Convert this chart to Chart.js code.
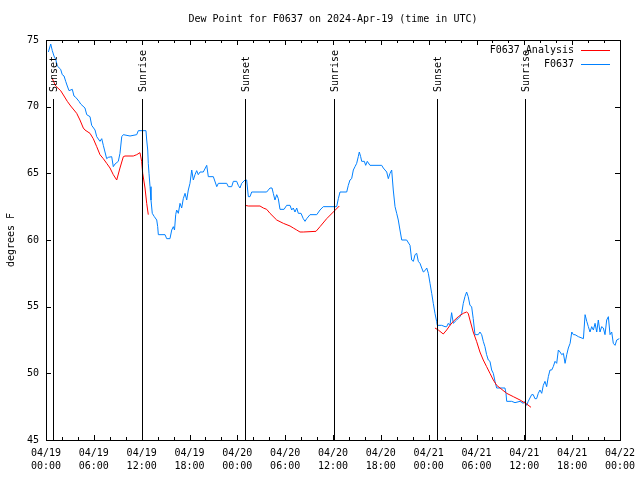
<!DOCTYPE html>
<html>
<head>
<meta charset="utf-8">
<script src="https://cdn.jsdelivr.net/npm/chart.js@4/dist/chart.umd.min.js"></script>
<style>
html,body{margin:0;padding:0;background:#fff;}
#wrap{width:640px;height:480px;}
</style>
</head>
<body>
<div id="wrap"><canvas id="c" width="640" height="480"></canvas></div>
<script>
// ---- DATA (hours since 2024-04-19 00:00 UTC) ----
const chartTitle = 'Dew Point for F0637 on 2024-Apr-19 (time in UTC)';
const yTitle = 'degrees F';
const seriesNames = ['F0637 Analysis', 'F0637'];
const tickDates = {0:'04/19',6:'04/19',12:'04/19',18:'04/19',24:'04/20',30:'04/20',36:'04/20',42:'04/20',48:'04/21',54:'04/21',60:'04/21',66:'04/21',72:'04/22'};
const tickTimes = {0:'00:00',6:'06:00',12:'12:00',18:'18:00',24:'00:00',30:'06:00',36:'12:00',42:'18:00',48:'00:00',54:'06:00',60:'12:00',66:'18:00',72:'00:00'};

const sunsetHours = [0.9, 25.0, 49.08];
const sunriseHours = [12.08, 36.15, 60.12];

const obsHours = [0.3,0.59,0.79,1.0,1.22,1.42,1.84,2.04,2.26,2.47,2.67,2.89,3.30,3.51,3.73,4.14,4.35,4.89,5.11,5.52,5.73,6.15,6.36,6.77,6.99,7.19,7.40,7.61,7.81,8.24,8.44,8.66,9.07,9.28,9.50,9.70,10.54,11.38,11.58,12.54,12.63,12.76,12.83,12.92,13.05,13.17,13.33,13.59,13.89,14.01,14.09,14.93,15.14,15.55,15.77,15.97,16.12,16.27,16.39,16.60,16.81,17.02,17.22,17.44,17.65,17.85,18.06,18.28,18.48,18.69,18.90,19.10,19.32,19.73,20.16,20.36,20.99,21.42,21.62,22.67,22.87,23.29,23.50,23.92,24.12,24.33,24.55,24.96,25.17,25.38,25.59,25.80,26.84,27.68,28.10,28.35,28.51,28.72,28.94,29.14,29.35,29.86,30.19,30.61,30.82,31.02,31.23,31.45,31.65,31.99,32.27,32.49,32.70,33.12,33.96,34.37,34.78,36.46,36.67,36.88,37.72,37.92,38.13,38.34,38.55,38.76,38.97,39.17,39.30,39.47,39.60,39.93,40.10,40.30,40.64,42.11,42.31,42.74,42.94,43.15,43.36,43.56,43.78,43.99,44.19,44.40,44.62,45.24,45.66,45.87,46.08,46.29,46.50,46.70,46.91,47.13,47.33,47.54,47.76,47.96,48.17,48.38,48.58,48.79,49.0,49.08,49.63,50.05,50.26,50.46,50.67,50.88,51.09,51.51,51.93,52.14,52.34,52.55,52.76,52.96,53.18,53.39,53.59,53.81,54.22,54.43,54.65,54.85,55.06,55.27,55.48,55.69,55.90,56.11,56.32,56.53,57.57,57.70,57.79,58.41,58.83,59.46,59.87,60.08,60.29,60.49,60.92,61.12,61.33,61.54,61.75,61.96,62.18,62.38,62.59,62.80,63.01,63.22,63.43,63.63,63.85,64.06,64.27,64.48,64.69,64.90,65.11,65.32,65.52,65.74,65.95,66.15,66.36,66.78,67.41,67.62,67.83,68.03,68.24,68.45,68.66,68.87,69.08,69.28,69.49,69.70,69.91,70.12,70.33,70.54,70.75,70.96,71.16,71.38,71.59,71.91];
const obsDewpt = [74.1,74.7,74.2,73.8,73.55,73.05,72.8,72.4,72.3,71.9,71.55,71.2,71.3,70.8,70.7,70.4,70.2,69.9,69.4,69.25,68.6,68.25,67.75,67.4,67.6,67.1,66.6,66.1,66.2,66.25,65.5,65.7,65.9,66.5,67.75,67.9,67.8,67.9,68.2,68.2,67.5,66.75,65.75,65.0,64.0,63.0,62.0,61.75,61.5,61.0,60.4,60.4,60.1,60.1,60.75,61.0,60.75,61.9,62.25,62.0,62.75,62.4,63.1,63.5,63.0,63.75,64.25,65.25,64.5,64.9,65.2,64.9,65.1,65.1,65.6,64.75,64.75,64.0,64.25,64.25,64.0,64.0,64.4,64.4,64.1,63.9,64.25,64.5,64.5,63.25,63.25,63.6,63.6,63.6,63.9,63.9,63.5,63.0,63.4,63.1,62.3,62.3,62.6,62.6,62.25,62.4,62.1,62.4,62.0,62.0,61.6,61.4,61.6,61.9,61.9,62.25,62.5,62.5,63.1,63.6,63.6,64.1,64.5,64.6,65.25,65.5,65.75,66.25,66.6,66.25,65.9,65.9,65.6,65.9,65.6,65.6,65.4,65.1,64.6,65.0,65.25,63.75,62.5,62.0,61.5,60.75,60.0,60.0,59.6,58.5,58.4,58.9,59.0,58.4,58.25,57.9,57.6,57.7,57.9,57.5,56.75,56.0,55.25,54.5,53.9,53.6,53.6,53.5,53.5,53.75,53.6,54.55,53.75,54.0,54.25,54.5,55.25,55.75,56.1,55.75,55.1,55.0,54.1,52.9,52.9,53.1,52.9,52.4,52.0,51.4,51.0,50.9,50.25,50.0,49.4,48.9,48.9,48.5,47.9,47.9,47.8,47.9,47.75,47.9,47.6,47.9,48.4,48.4,48.1,48.1,48.5,48.75,48.5,49.1,49.4,49.0,49.75,50.25,50.25,50.5,50.9,50.75,51.75,51.6,51.4,51.5,50.75,51.4,51.9,52.25,53.1,52.9,52.9,52.75,52.6,54.4,53.9,53.5,53.1,53.5,53.25,53.75,53.1,54.0,53.1,53.5,53.4,52.9,54.0,54.25,52.9,53.1,52.25,52.1,52.5,52.6];

// analysis: null marks a break between segments
const anaHours = [0.79,1.22,1.84,2.26,2.67,3.10,3.85,4.26,4.68,4.89,5.52,5.93,6.36,6.77,7.19,7.61,8.03,8.44,8.87,9.28,9.70,9.91,10.95,11.38,11.79,12.0,12.13,12.42,12.63,12.83,18.0,24.96,25.38,26.84,27.26,27.68,28.10,28.94,29.77,30.61,31.02,31.45,31.86,32.27,33.87,34.37,35.21,36.04,36.79,42.0,48.79,49.21,49.83,50.26,50.67,51.09,51.72,52.34,52.76,52.96,53.18,53.59,54.01,54.43,54.85,55.27,55.69,56.11,56.53,56.95,57.79,58.62,59.46,60.29,60.84];
const anaDewpt = [72.1,71.55,71.2,70.8,70.4,70.05,69.5,69.0,68.4,68.25,68.0,67.6,67.0,66.4,66.1,65.75,65.4,64.9,64.5,65.4,66.25,66.3,66.3,66.4,66.55,65.9,65.0,63.9,62.75,61.9,null,62.6,62.55,62.55,62.4,62.3,62.0,61.5,61.25,61.05,60.9,60.75,60.6,60.6,60.65,61.0,61.6,62.1,62.55,null,53.4,53.25,52.95,53.25,53.6,53.9,54.25,54.5,54.6,54.5,54.0,53.1,52.4,51.6,51.0,50.5,50.0,49.5,49.1,48.9,48.5,48.25,48.0,47.7,47.45];

const FONT = '10px "DejaVu Sans Mono", "Liberation Mono", monospace';

const framePlugin = {
  id: 'frame',
  afterDraw(chart) {
    const ctx = chart.ctx, a = chart.chartArea;
    const xs = chart.scales.x, ys = chart.scales.y;
    ctx.save();
    ctx.strokeStyle = '#000';
    ctx.lineWidth = 1;
    // border
    ctx.strokeRect(Math.round(a.left) + 0.5, Math.round(a.top) + 0.5, Math.round(a.right - a.left), Math.round(a.bottom - a.top));
    // x ticks (inward, mirrored)
    ctx.beginPath();
    xs.ticks.forEach(t => {
      const px = Math.round(xs.getPixelForValue(t.value)) + 0.5;
      const len = (t.value % 6 === 0) ? 5 : 3;
      ctx.moveTo(px, a.bottom); ctx.lineTo(px, a.bottom - len);
      ctx.moveTo(px, a.top); ctx.lineTo(px, a.top + len);
    });
    ys.ticks.forEach(t => {
      const py = Math.round(ys.getPixelForValue(t.value)) + 0.5;
      ctx.moveTo(a.left, py); ctx.lineTo(a.left + 5, py);
      ctx.moveTo(a.right, py); ctx.lineTo(a.right - 5, py);
    });
    ctx.stroke();

    // sunrise / sunset lines and labels
    const events = [];
    sunsetHours.forEach(h => events.push([h, 'Sunset']));
    sunriseHours.forEach(h => events.push([h, 'Sunrise']));
    ctx.font = FONT;
    ctx.fillStyle = '#000';
    events.forEach(([h, name]) => {
      const px = Math.round(xs.getPixelForValue(h)) + 0.5;
      ctx.beginPath();
      ctx.moveTo(px, 99); ctx.lineTo(px, a.bottom);
      ctx.stroke();
      ctx.save();
      ctx.translate(px + 1, 92);
      ctx.rotate(-Math.PI / 2);
      ctx.textAlign = 'left';
      ctx.textBaseline = 'middle';
      ctx.fillText(name, 0, 0);
      ctx.restore();
    });

    // title
    ctx.textAlign = 'center';
    ctx.textBaseline = 'middle';
    ctx.fillText(chartTitle, (a.left + a.right) / 2, 19);

    // y title
    ctx.save();
    ctx.translate(11, (a.top + a.bottom) / 2);
    ctx.rotate(-Math.PI / 2);
    ctx.fillText(yTitle, 0, 0);
    ctx.restore();

    // legend
    const colors = ['#ff0000', '#0080ff'];
    seriesNames.forEach((n, i) => {
      const y = 50 + i * 14;
      ctx.textAlign = 'right';
      ctx.fillStyle = '#000';
      ctx.fillText(n, 574, y);
      ctx.strokeStyle = colors[i];
      ctx.beginPath();
      ctx.moveTo(581, y + 0.5); ctx.lineTo(610, y + 0.5);
      ctx.stroke();
    });
    ctx.restore();
  }
};

const anaData = anaHours.map((h, i) => ({x: h, y: anaDewpt[i]}));
const obsData = obsHours.map((h, i) => ({x: h, y: obsDewpt[i]}));

new Chart(document.getElementById('c'), {
  type: 'line',
  data: {
    datasets: [
      {label: seriesNames[0], data: anaData, borderColor: '#ff0000', borderWidth: 1, pointRadius: 0, tension: 0, spanGaps: false, fill: false},
      {label: seriesNames[1], data: obsData, borderColor: '#0080ff', borderWidth: 1, pointRadius: 0, tension: 0, fill: false}
    ]
  },
  options: {
    responsive: false,
    animation: false,
    devicePixelRatio: 1,
    layout: {padding: {top: 40, right: 20, left: 0, bottom: 0}},
    plugins: {legend: {display: false}, title: {display: false}, tooltip: {enabled: false}},
    scales: {
      x: {
        type: 'linear', min: 0, max: 72,
        afterFit: s => { s.height = 40; s.paddingLeft = 0; s.paddingRight = 0; },
        afterBuildTicks: s => { const t = []; for (let v = 0; v <= 72; v += 2) t.push({value: v}); s.ticks = t; },
        grid: {display: false, drawTicks: false},
        border: {display: false},
        ticks: {
          autoSkip: false, maxRotation: 0, minRotation: 0, padding: 7,
          color: '#000',
          font: {family: '"DejaVu Sans Mono", "Liberation Mono", monospace', size: 10, lineHeight: 1.3},
          callback: v => (v % 6 === 0 && tickDates[v] !== undefined) ? [tickDates[v], tickTimes[v]] : ''
        }
      },
      y: {
        type: 'linear', min: 45, max: 75,
        afterFit: s => { s.width = 46; s.paddingTop = 0; s.paddingBottom = 0; },
        grid: {display: false, drawTicks: false},
        border: {display: false},
        ticks: {
          stepSize: 5, padding: 7, color: '#000',
          font: {family: '"DejaVu Sans Mono", "Liberation Mono", monospace', size: 10}
        }
      }
    }
  },
  plugins: [framePlugin]
});
</script>
</body>
</html>
